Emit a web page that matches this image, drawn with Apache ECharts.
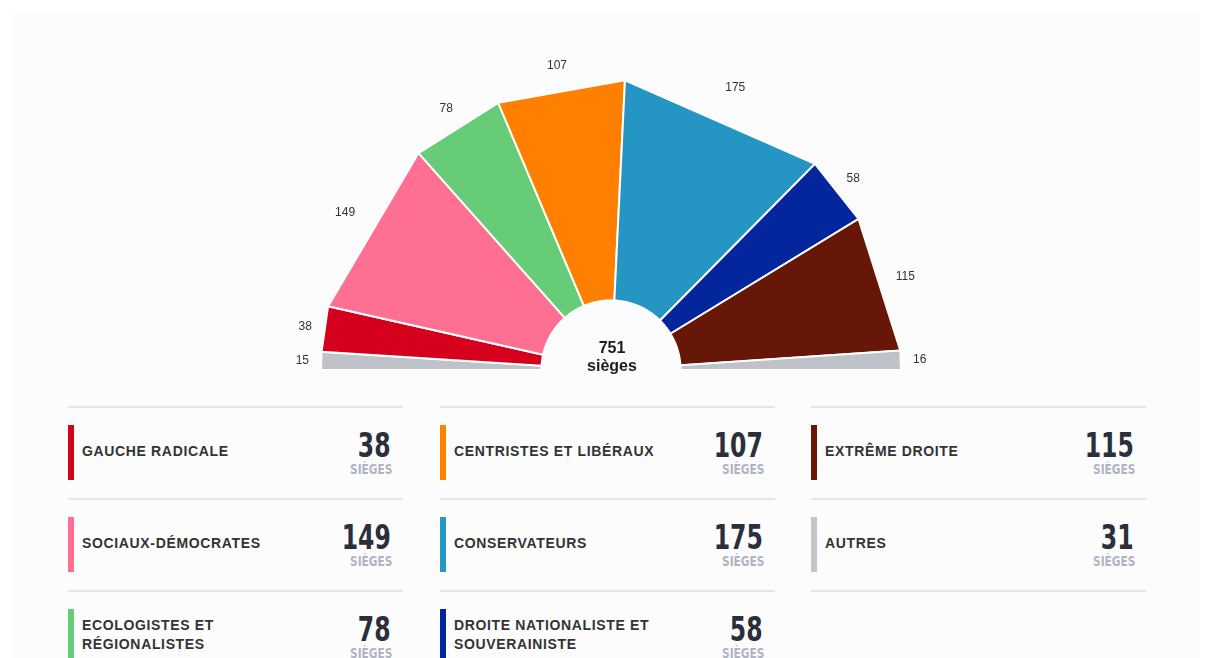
<!DOCTYPE html>
<html>
<head>
<meta charset="utf-8">
<script src="https://cdn.jsdelivr.net/npm/echarts@6/dist/echarts.min.js"></script>
<style>
    html, body { margin: 0; padding: 0; width: 1209px; height: 658px; overflow: hidden; background: #fff; }
    #wrap { position: absolute; left: 10px; top: 12px; width: 1190px; height: 646px; background: #fcfcfc; }
    #chart { position: absolute; left: 0; top: 0; width: 1209px; height: 400px; }
    .item { position: absolute; width: 335px; height: 90px; border-top: 2px solid #e6e6ea; border-bottom: 2px solid #e6e6ea; }
    .bar { position: absolute; left: 0; top: 17px; width: 6px; height: 55px; }
    .name { position: absolute; left: 14px; top: -2px; height: 90px; display: flex; align-items: center; white-space: pre-line;
        font-family: 'Liberation Sans', Arial, sans-serif; font-weight: bold; font-size: 14px; letter-spacing: 0.65px; line-height: 19px; color: #333; }
    .num { position: absolute; right: 12px; top: 20px; text-align: right; transform: scaleX(0.77); transform-origin: right center;
        font-family: 'DejaVu Sans Condensed', sans-serif; font-weight: bold; font-size: 34px; line-height: 34px; color: #2a2f3b; }
    .unit { position: absolute; right: 11px; top: 54px; text-align: right; transform: scaleX(0.84); transform-origin: right center;
        font-family: 'DejaVu Sans Condensed', sans-serif; font-weight: bold; font-size: 14px; line-height: 14px; color: #aeb4c4; }
</style>
</head>
<body>
<div id="wrap"></div>
<div id="chart"></div>
<div id="legend"></div>
<script>
    // hémicycle : ordre de gauche à droite (les "autres" sont répartis aux deux extrémités)
    var arcNames = ['Autres', 'Gauche radicale', 'Sociaux-démocrates', 'Ecologistes et régionalistes', 'Centristes et libéraux',
        'Conservateurs', 'Droite nationaliste et souverainiste', 'Extrême droite', 'Autres'];
    var arcSeats = [15, 38, 149, 78, 107, 175, 58, 115, 16];
    var arcColors = ['#c0c2c9', '#d5001c', '#ff6f91', '#66cc77', '#ff8000', '#2596c3', '#03269c', '#661707', '#c0c2c9'];

    // légende (colonne par colonne)
    var groupLabels = ['GAUCHE RADICALE', 'SOCIAUX-DÉMOCRATES', 'ECOLOGISTES ET\nRÉGIONALISTES', 'CENTRISTES ET LIBÉRAUX',
        'CONSERVATEURS', 'DROITE NATIONALISTE ET\nSOUVERAINISTE', 'EXTRÊME DROITE', 'AUTRES'];
    var groupSeats = [38, 149, 78, 107, 175, 58, 115, 31];
    var groupColors = ['#d5001c', '#ff6f91', '#66cc77', '#ff8000', '#2596c3', '#03269c', '#661707', '#c3c4cb'];

    var total = arcSeats.reduce(function (a, b) { return a + b; }, 0);

    var INNER = 24;   // rayon du trou central (axe 0-100)
    var OUTER = 100;
    var LABEL_R = 106.5;

    var data = [];
    var acc = 0;
    for (var i = 0; i < arcSeats.length; i++) {
        data.push({ name: arcNames[i], value: [acc, acc + arcSeats[i], arcSeats[i]], itemStyle: { color: arcColors[i] } });
        acc += arcSeats[i];
    }

    var myChart = echarts.init(document.getElementById('chart'));

    var option = {
        animation: false,
        polar: {
            center: [611, 370],
            radius: 319
        },
        angleAxis: {
            type: 'value',
            startAngle: 180,
            clockwise: true,
            min: 0,
            max: total * 2,
            show: false
        },
        radiusAxis: {
            type: 'value',
            min: 0,
            max: 110,
            show: false
        },
        graphic: [
            { type: 'text', x: 612, y: 349, style: { text: String(total), align: 'center', verticalAlign: 'middle',
                font: 'bold 16px "Liberation Sans", Arial, sans-serif', fill: '#1c1c1c' } },
            { type: 'text', x: 612, y: 367, style: { text: 'sièges', align: 'center', verticalAlign: 'middle',
                font: 'bold 16px "Liberation Sans", Arial, sans-serif', fill: '#1c1c1c' } }
        ],
        series: [{
            type: 'custom',
            coordinateSystem: 'polar',
            data: data,
            renderItem: function (params, api) {
                var start = api.value(0);
                var end = api.value(1);
                var pts = [];
                var steps = 30;
                for (var k = 0; k <= steps; k++) {
                    pts.push(api.coord([INNER, start + (end - start) * k / steps]));
                }
                pts.push(api.coord([OUTER, end]));
                pts.push(api.coord([OUTER, start]));
                var lp = api.coord([LABEL_R, (start + end) / 2]);
                return {
                    type: 'group',
                    children: [{
                        type: 'polygon',
                        shape: { points: pts },
                        style: { fill: api.visual('color'), stroke: '#fff', lineWidth: 2 }
                    }, {
                        type: 'text',
                        x: lp[0],
                        y: lp[1],
                        style: { text: String(api.value(2)), align: 'center', verticalAlign: 'middle',
                            font: '12px "Liberation Sans", Arial, sans-serif', fill: '#333' }
                    }]
                };
            }
        }]
    };

    myChart.setOption(option);

    // légende HTML
    var colX = [68, 440, 811];
    var rowY = [406, 498, 590];
    var html = '';
    for (var j = 0; j < groupLabels.length; j++) {
        var c = Math.floor(j / 3), r = j % 3;
        html += '<div class="item" style="left:' + colX[c] + 'px;top:' + rowY[r] + 'px">' +
            '<div class="bar" style="background:' + groupColors[j] + '"></div>' +
            '<div class="name">' + groupLabels[j] + '</div>' +
            '<div class="num">' + groupSeats[j] + '</div>' +
            '<div class="unit">SIÈGES</div>' +
            '</div>';
    }
    document.getElementById('legend').innerHTML = html;

    window.addEventListener("resize", function () {
        myChart.resize();
    });
</script>
</body>
</html>
